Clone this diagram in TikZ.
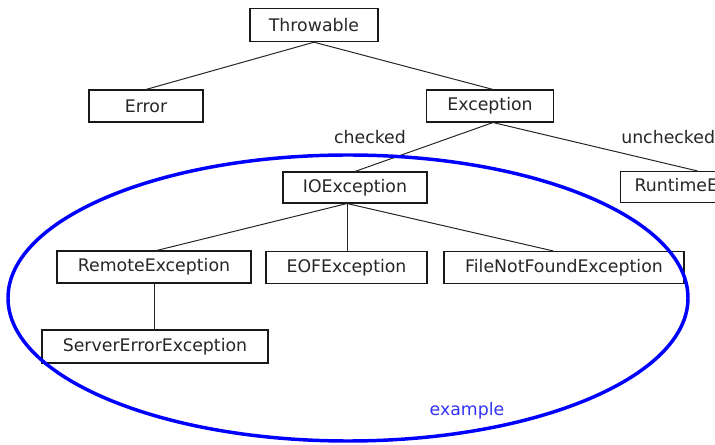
\documentclass[tikz,border=0pt]{standalone}
\usepackage{fontspec}
\setmainfont{DejaVu Sans}
\definecolor{txtgray}{RGB}{38,38,38}
\definecolor{exblue}{RGB}{50,50,245}
\begin{document}
\begin{tikzpicture}[x=0.75pt,y=-0.75pt,
  cls/.style={draw=black!90, line width=0.8pt, rectangle, inner sep=0pt,
    minimum height=24pt, font=\fontsize{13}{15}\selectfont, text=txtgray},
  lbl/.style={inner sep=0pt, font=\fontsize{13}{15}\selectfont, text=txtgray},
  link/.style={draw=black!85, line width=0.75pt}]
\useasboundingbox (0,0) rectangle (715,445);

% class boxes
\node[cls, minimum width=96pt, minimum height=25pt] (thr) at (314,25) {Throwable};
\node[cls, minimum width=85.5pt] (err) at (146,106) {Error};
\node[cls, minimum width=95.25pt] (exc) at (490,106) {Exception};
\node[cls, minimum width=108pt, minimum height=23.25pt] (ioe) at (355,187.5) {IOException};
\node[cls, minimum width=139.5pt, anchor=west, minimum height=23.25pt] (rte) at (620,187) {RuntimeException};
\node[cls, minimum width=145.5pt] (rem) at (154,267) {RemoteException};
\node[cls, minimum width=120.75pt] (eof) at (346.5,267.5) {EOFException};
\node[cls, minimum width=180pt] (fnf) at (564,267.5) {FileNotFoundException};
\node[cls, minimum width=169.5pt, minimum height=24.75pt] (see) at (155,346.5) {ServerErrorException};

% junction points on the lower edges of the parent boxes
\coordinate (excfoot) at ([xshift=2.25pt]exc.south);
\coordinate (ioefoot) at ([xshift=-6pt]ioe.south);

% inheritance links
\draw[link] (thr.south) -- (err.north);
\draw[link] (thr.south) -- ([xshift=2.25pt]exc.north);
\draw[link] (excfoot) -- (ioe.north);
\draw[link] (excfoot) -- ([xshift=-12pt]rte.north);
\draw[link] (ioefoot) -- ([xshift=2pt]rem.north);
\draw[link] (ioefoot) -- (ioefoot |- eof.north);
\draw[link] (ioefoot) -- ([xshift=-8pt]fnf.north);
\draw[link] (rem.south) -- (rem.south |- see.north);

% branch labels
\node[lbl] (chk) at (370,137) {checked};
\node[lbl, anchor=west] (unchk) at (621,137) {unchecked};

% grouping ellipse
\draw[blue, line width=2.6pt] (348,298) ellipse [x radius=255pt, y radius=107.25pt];
\node[lbl, text=exblue] (ex) at (467,411) {example};
\end{tikzpicture}
\end{document}
